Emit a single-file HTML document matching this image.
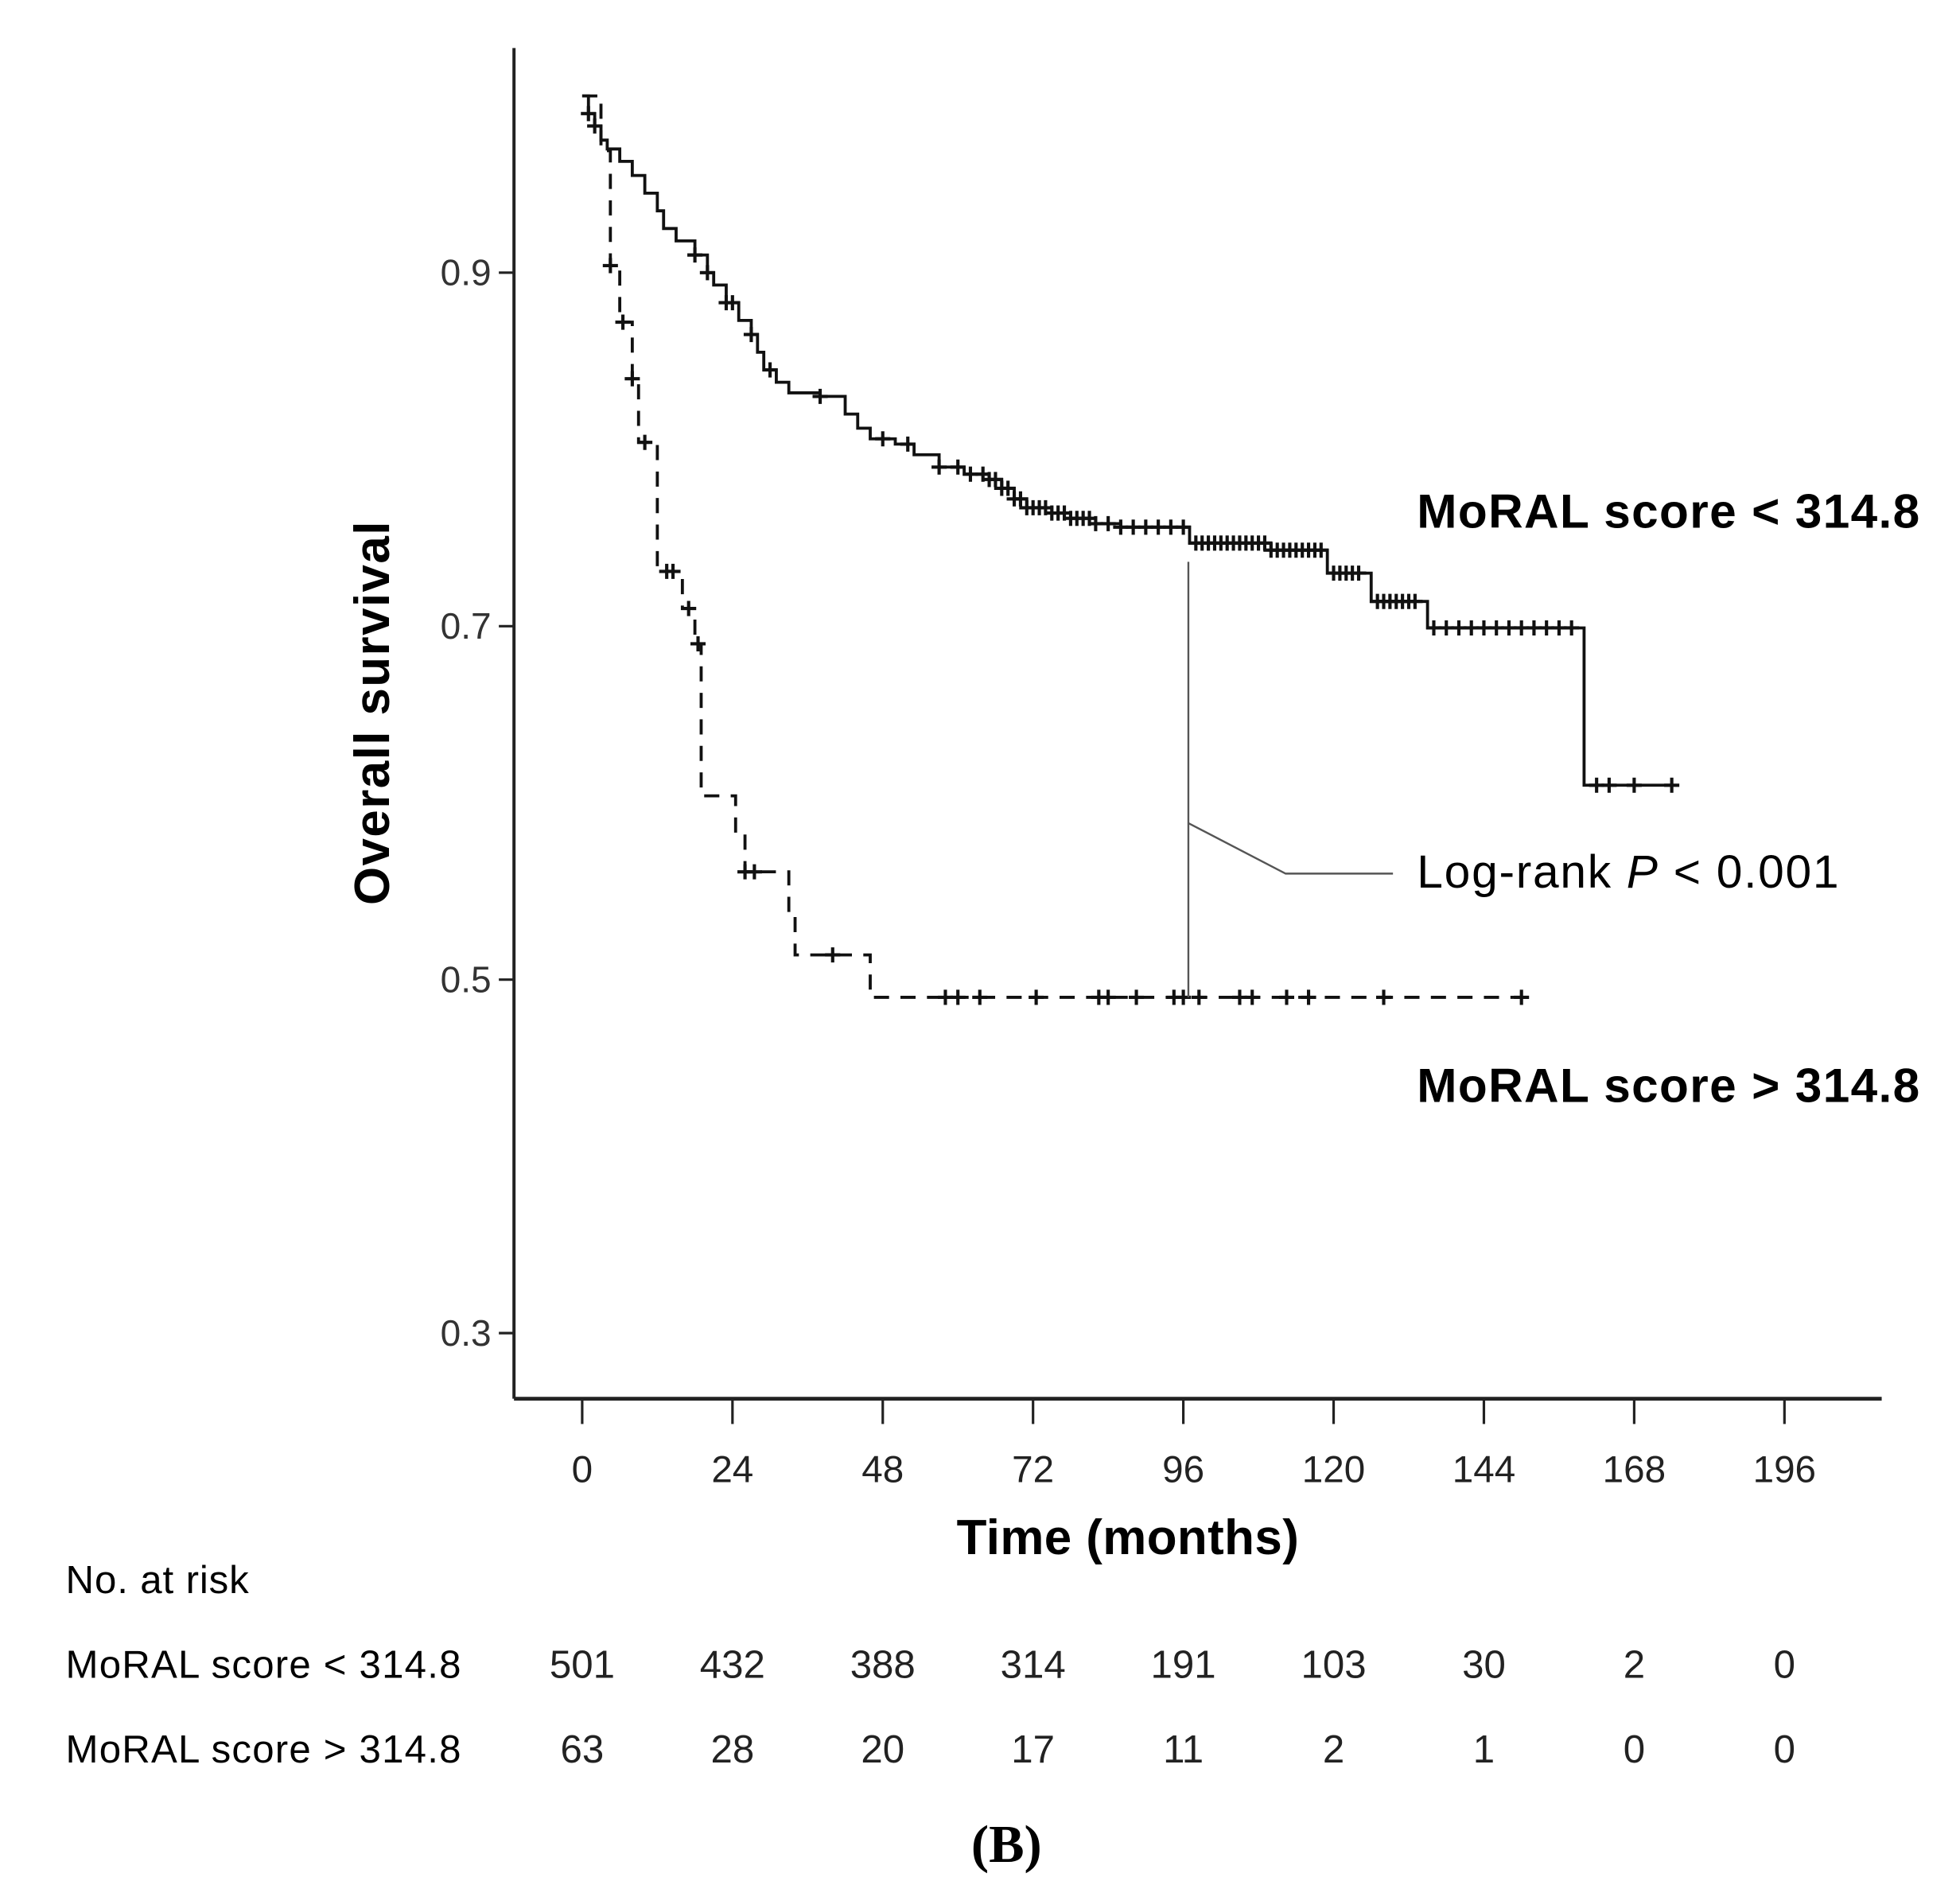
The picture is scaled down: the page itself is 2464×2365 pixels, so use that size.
<!DOCTYPE html>
<html><head><meta charset="utf-8"><style>
html,body{margin:0;padding:0;background:#fff;}
svg{display:block;font-family:"Liberation Sans",Arial,sans-serif;}
</style></head><body>
<svg id="chart" width="2464" height="2365" viewBox="0 0 1552 1490" preserveAspectRatio="none" xmlns="http://www.w3.org/2000/svg">
<g id="axes"></g>
<g id="curves"></g>
<g id="labels">
<text x="0" y="0" transform="translate(308,565) rotate(-90)" text-anchor="middle" font-size="39" font-weight="bold" textLength="304">Overall survival</text>
<text x="893" y="1231" text-anchor="middle" font-size="39" font-weight="bold" textLength="271">Time (months)</text>
<text x="1122" y="418" font-size="38" font-weight="bold" textLength="398">MoRAL score &lt; 314.8</text>
<text x="1122" y="873" font-size="38" font-weight="bold" textLength="398">MoRAL score &gt; 314.8</text>
<text x="1122" y="703" font-size="37" textLength="334">Log-rank <tspan font-style="italic">P</tspan> &lt; 0.001</text>
<polyline points="941,445 941,790" fill="none" stroke="#555" stroke-width="1.5"/>
<polyline points="941,652 1018,692 1103,692" fill="none" stroke="#555" stroke-width="1.5"/>
<text x="52" y="1262" font-size="31" textLength="145">No. at risk</text>
<text x="52" y="1329" font-size="31" textLength="313">MoRAL score &lt; 314.8</text>
<text x="52" y="1396" font-size="31" textLength="313">MoRAL score &gt; 314.8</text>
<text x="797" y="1475" text-anchor="middle" font-size="42" font-weight="bold" font-family="Liberation Serif, serif">(B)</text>
</g>
<g id="risk"></g>
</svg>
<script>
const xTicks = [0,24,48,72,96,120,144,168,196];
const yTicks = [0.9,0.7,0.5,0.3];
const riskLow = [501,432,388,314,191,103,30,2,0];
const riskHigh = [63,28,20,17,11,2,1,0,0];
const lowT = [0,1,2,3,4,6,8,10,12,13,15,18,20,21,23,25,27,28,29,31,33,38,42,44,46,50,53,57,61,65,67,69,71,75,78,82,86,97,110,119,126,135,160];
const lowS = [1.0,0.99,0.983,0.975,0.97,0.963,0.955,0.945,0.935,0.925,0.918,0.91,0.9,0.893,0.883,0.873,0.865,0.855,0.845,0.838,0.832,0.83,0.82,0.812,0.806,0.803,0.797,0.79,0.786,0.783,0.778,0.772,0.767,0.764,0.761,0.758,0.756,0.747,0.743,0.73,0.714,0.699,0.61];
const lowEnd = 174;
const highT = [0,3,4.5,6,8,9,12,16,18,19,24.5,26,33,34,46];
const highS = [1.0,0.969,0.904,0.872,0.84,0.804,0.731,0.71,0.69,0.604,0.583,0.561,0.536,0.514,0.49];
const highEnd = 151;
const lowCensor = [1,2,18,20,23,24,27,30,38,48,52,57,60,62,64,65,66,67,68,69,70,71,72,73,74,75,76,77,78,79,80,81,82,84,86,88,90,92,94,96,98,99,100,101,102,103,104,105,106,107,108,109,110,111,112,113,114,115,116,117,118,120,121,122,123,124,127,128,129,130,131,132,133,136,138,140,142,144,146,148,150,152,154,156,158,162,164,168,174];
const highCensor = [4.5,6.5,8,10,13.5,14.5,17,18.5,26,27.5,40,58,60,63.5,72.5,82.5,84,88.5,94.5,96,98.5,105,107,112.5,116,128,150];

const NS='http://www.w3.org/2000/svg';
const X0=407, X1=1490, Y0=38, YB=1108;
const xs = t => 461 + t*(119/24);
const xTickPos = i => 461 + i*119;
const ys = s => 76 + (1-s)*1400;
function mk(tag, attrs, parent){const e=document.createElementNS(NS,tag);for(const k in attrs)e.setAttribute(k,attrs[k]);parent.appendChild(e);return e;}
const axes=document.getElementById('axes'), curves=document.getElementById('curves'), risk=document.getElementById('risk');

let e=mk('line',{x1:X0,y1:Y0,x2:X0,y2:YB,stroke:'#222','stroke-width':2.5},axes);


e=mk('line',{x1:X0,y1:YB,x2:X1,y2:YB,stroke:'#222','stroke-width':3},axes);


xTicks.forEach((v,i)=>{
  const x=xTickPos(i);
  let t=mk('line',{x1:x,y1:YB,x2:x,y2:YB+20,stroke:'#222','stroke-width':2},axes);
  
  
  let l=mk('text',{x:x,y:1174,'text-anchor':'middle','font-size':30,fill:'#222'},axes);
  l.textContent=v;
  
  
  let a=mk('text',{x:x,y:1329,'text-anchor':'middle','font-size':31,fill:'#222'},risk);
  a.textContent=riskLow[i];
  
  
  let b=mk('text',{x:x,y:1396,'text-anchor':'middle','font-size':31,fill:'#222'},risk);
  b.textContent=riskHigh[i];
  
  
});
yTicks.forEach(v=>{
  const y=ys(v);
  let t=mk('line',{x1:X0-12,y1:y,x2:X0,y2:y,stroke:'#222','stroke-width':2},axes);
  
  
  let l=mk('text',{x:389,y:y+10,'text-anchor':'end','font-size':29,fill:'#333'},axes);
  l.textContent=v.toFixed(1);
  
  
});
function stepPts(T,S,end){
  let p=[[xs(T[0]),ys(S[0])]];
  for(let i=1;i<T.length;i++){p.push([xs(T[i]),ys(S[i-1])]);p.push([xs(T[i]),ys(S[i])]);}
  p.push([xs(end),ys(S[S.length-1])]);
  return p.map(q=>q.join(',')).join(' ');
}
function survAt(T,S,t){let s=S[0];for(let i=0;i<T.length;i++){if(T[i]<=t)s=S[i];}return s;}
let pl=mk('polyline',{points:stepPts(lowT,lowS,lowEnd),fill:'none',stroke:'#111','stroke-width':2.4},curves);


let ph=mk('polyline',{points:stepPts(highT,highS,highEnd),fill:'none',stroke:'#111','stroke-width':2.4,'stroke-dasharray':'12,9'},curves);


function censor(t,s,name){
  const x=xs(t),y=ys(s);
  const g=mk('path',{d:`M${x-6},${y}H${x+6}M${x},${y-6}V${y+6}`,stroke:'#111','stroke-width':2.6},curves);
  
  
}
lowCensor.forEach(t=>censor(t,survAt(lowT,lowS,t),'censor-low'));
highCensor.forEach(t=>censor(t,survAt(highT,highS,t),'censor-high'));
</script>
</body></html>
